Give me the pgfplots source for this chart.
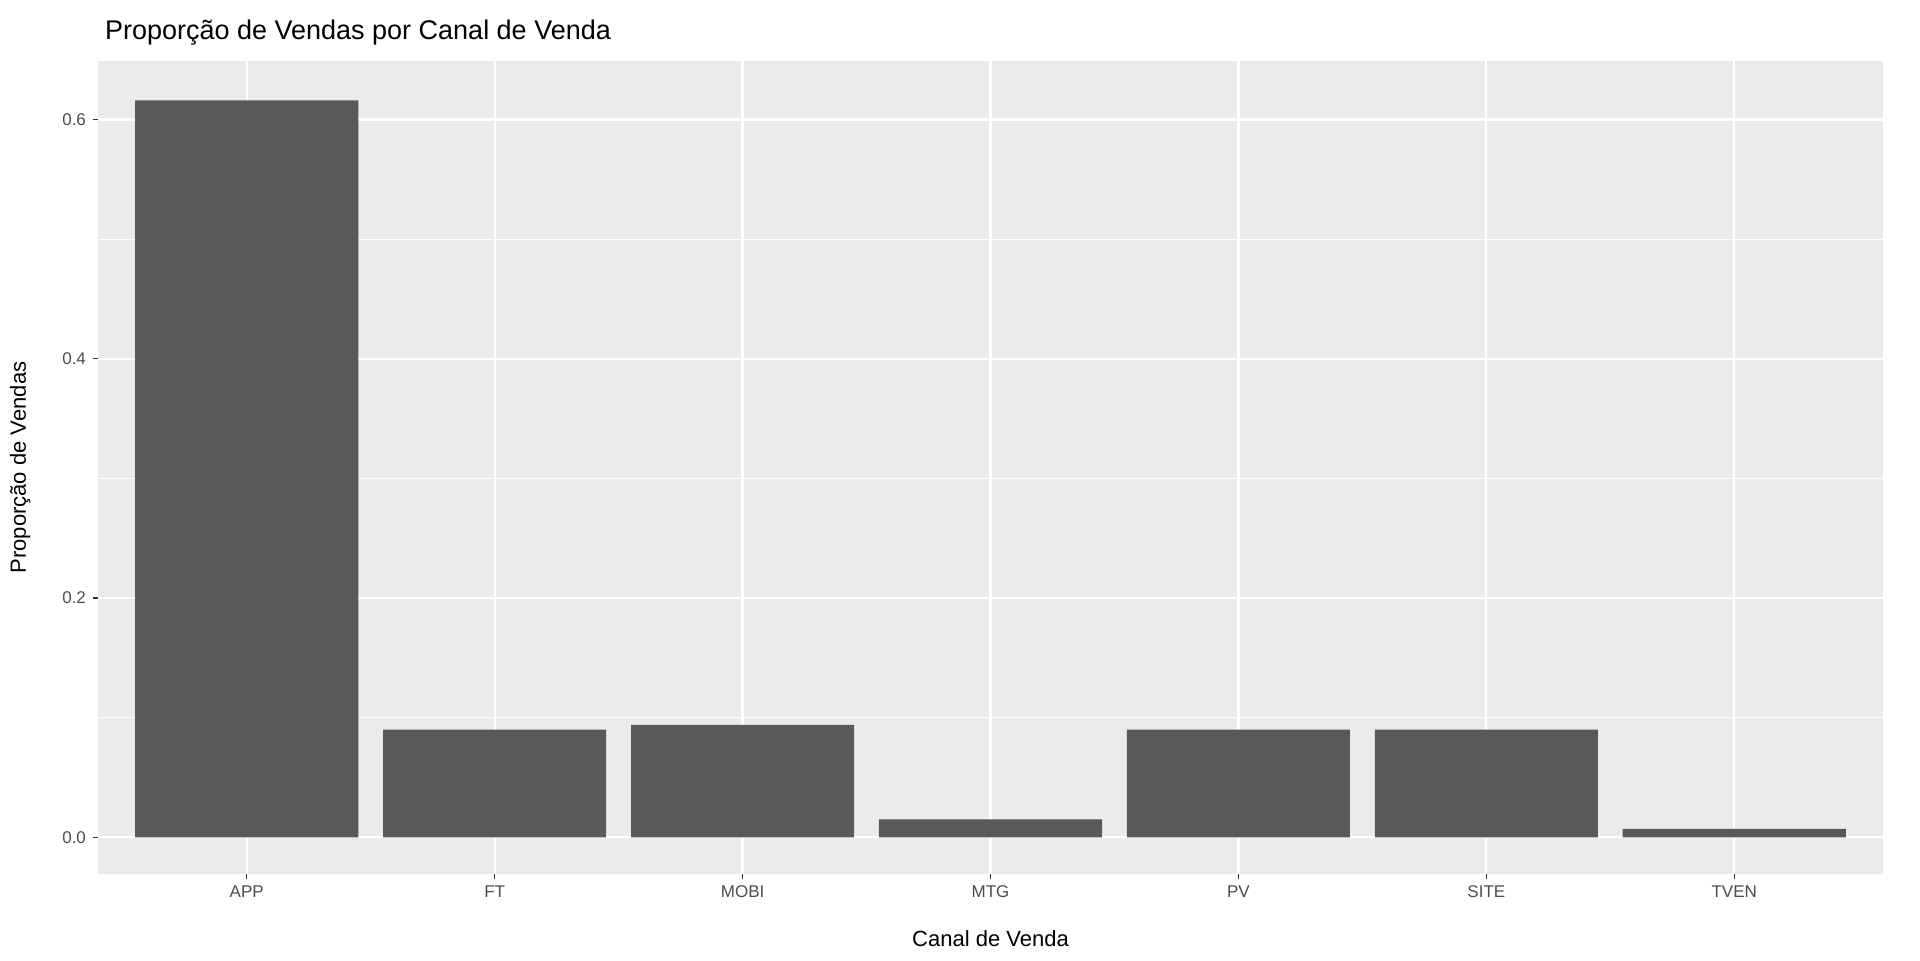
\documentclass[border=0pt]{standalone}
\usepackage{pgfplots}
\pgfplotsset{compat=1.18}
\usepackage{fontspec}
\setmainfont{Liberation Sans}
\definecolor{panel}{HTML}{EBEBEB}
\definecolor{barc}{HTML}{595959}
\definecolor{tickc}{HTML}{333333}
\definecolor{labc}{HTML}{4D4D4D}
\begin{document}
\begin{tikzpicture}
\path[use as bounding box] (-49pt,-43pt) rectangle (911pt,437pt);
\begin{axis}[
  at={(0,0)}, anchor=south west,
  scale only axis, width=892.5pt, height=406.5pt,
  xmin=-0.6, xmax=6.6, ymin=-0.0307, ymax=0.649,
  axis background/.style={fill=panel},
  axis line style={draw=none},
  xtick={0,...,6},
  xticklabels={APP,FT,MOBI,MTG,PV,SITE,TVEN},
  ytick={0,0.2,0.4,0.6},
  yticklabels={0.0,0.2,0.4,0.6},
  minor ytick={0.1,0.3,0.5},
  grid=both,
  major grid style={white, line width=1.1pt},
  minor grid style={white, line width=0.55pt},
  tick align=outside, tick pos=left,
  major tick length=2.5pt, minor tick length=0pt,
  tick style={tickc, line width=0.6pt},
  ticklabel style={font=\fontsize{8.5}{10}\selectfont, text=labc},
  /pgf/number format/assume math mode=true,
]
\addplot[ybar, bar width=0.9, bar shift=0pt, fill=barc, draw=none]
  coordinates {(0,0.616) (1,0.090) (2,0.094) (3,0.015) (4,0.090) (5,0.090) (6,0.007)};
\end{axis}
\node[anchor=base west, font=\fontsize{13.5}{16}\selectfont] at (0pt,417pt) {Proporção de Vendas por Canal de Venda};
\node[anchor=base, font=\fontsize{11}{13}\selectfont] at (446.25pt,-36pt) {Canal de Venda};
\node[anchor=base, rotate=90, font=\fontsize{11}{13}\selectfont] at (-36pt,203.25pt) {Proporção de Vendas};
\end{tikzpicture}
\end{document}
